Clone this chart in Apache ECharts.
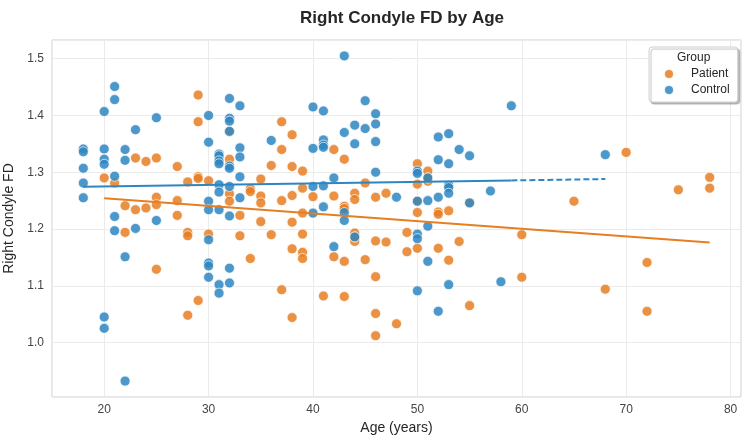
<!DOCTYPE html>
<html>
<head>
<meta charset="utf-8">
<script src="https://cdn.jsdelivr.net/npm/echarts@6/dist/echarts.min.js"></script>
<style>
  html, body { margin: 0; padding: 0; background: #fff; }
  #main { width: 750px; height: 445px; }
</style>
</head>
<body>
<div id="main"></div>
<script>
// data: [age, right condyle FD]
const patientPoints = [
  [20,1.290],[21,1.281],[22,1.241],[22,1.194],[23,1.325],[23,1.234],[24,1.319],[24,1.237],
  [25,1.325],[25,1.256],[25,1.243],[25,1.129],[27,1.310],[27,1.250],[27,1.224],[28,1.283],
  [28,1.194],[28,1.188],[28,1.048],[29,1.436],[29,1.389],[29,1.292],[29,1.289],[29,1.074],
  [30,1.285],[30,1.191],[32,1.323],[32,1.262],[32,1.249],[32,1.372],[33,1.224],[33,1.188],
  [34,1.271],[34,1.266],[34,1.148],[35,1.288],[35,1.258],[35,1.246],[35,1.213],[36,1.312],
  [36,1.190],[37,1.389],[37,1.340],[37,1.250],[37,1.093],[38,1.366],[38,1.310],[38,1.259],
  [38,1.212],[38,1.165],[38,1.044],[39,1.302],[39,1.272],[39,1.228],[39,1.191],[39,1.159],
  [39,1.148],[40,1.257],[41,1.082],[42,1.340],[42,1.258],[42,1.151],[43,1.323],[43,1.240],
  [43,1.236],[43,1.143],[43,1.081],[44,1.263],[44,1.252],[44,1.193],[44,1.178],[44,1.186],
  [45,1.281],[45,1.146],[46,1.256],[46,1.179],[46,1.116],[46,1.051],[46,1.012],[47,1.263],
  [47,1.177],[48,1.033],[49,1.194],[49,1.160],[50,1.315],[50,1.279],[50,1.249],[50,1.229],
  [50,1.166],[51,1.302],[51,1.284],[51,1.290],[52,1.230],[52,1.226],[52,1.166],[53,1.232],
  [53,1.145],[54,1.178],[55,1.246],[55,1.065],[60,1.190],[60,1.115],[65,1.249],[68,1.094],
  [70,1.335],[72,1.141],[72,1.055],[75,1.269],[78,1.291],[78,1.272]
];

const controlPoints = [
  [18,1.341],[18,1.336],[18,1.307],[18,1.281],[18,1.255],[20,1.407],[20,1.341],[20,1.323],
  [20,1.314],[20,1.045],[20,1.025],[21,1.451],[21,1.428],[21,1.293],[21,1.222],[21,1.197],
  [22,1.340],[22,1.321],[22,1.151],[22,0.932],[23,1.375],[23,1.201],[25,1.396],[25,1.215],
  [30,1.400],[30,1.353],[30,1.249],[30,1.234],[30,1.181],[30,1.140],[30,1.135],[30,1.115],
  [31,1.332],[31,1.329],[31,1.320],[31,1.315],[31,1.278],[31,1.265],[31,1.234],[31,1.102],
  [31,1.087],[32,1.430],[32,1.395],[32,1.390],[32,1.372],[32,1.311],[32,1.307],[32,1.275],
  [32,1.223],[32,1.131],[32,1.105],[33,1.417],[33,1.343],[33,1.327],[33,1.292],[33,1.255],
  [36,1.356],[40,1.415],[40,1.342],[40,1.275],[40,1.228],[41,1.408],[41,1.357],[41,1.348],
  [41,1.344],[41,1.276],[41,1.239],[42,1.290],[42,1.169],[43,1.505],[43,1.370],[43,1.229],
  [43,1.215],[44,1.383],[44,1.350],[44,1.186],[45,1.426],[45,1.377],[46,1.403],[46,1.385],
  [46,1.354],[46,1.300],[48,1.256],[50,1.302],[50,1.298],[50,1.249],[50,1.191],[50,1.183],
  [50,1.091],[51,1.290],[51,1.250],[51,1.205],[51,1.143],[52,1.362],[52,1.322],[52,1.256],
  [52,1.055],[53,1.368],[53,1.315],[53,1.277],[53,1.273],[53,1.263],[53,1.102],[54,1.340],
  [55,1.329],[55,1.246],[57,1.267],[58,1.107],[59,1.417],[68,1.331]
];

// regression lines (end points)
const patientFit = [[20,1.254],[78,1.176]];
const controlFitSolid = [[18,1.2746],[59,1.2856]];
const controlFitDashed = [[59,1.2856],[68,1.288]];

const groupNames = ['Patient', 'Control'];
const orange = '#e67e22';
const blue = '#2e86c1';

const chart = echarts.init(document.getElementById('main'), null, { renderer: 'canvas' });

function pointSeries(name, data, color) {
  return {
    name: name,
    type: 'scatter',
    data: data,
    symbolSize: 10,
    itemStyle: { color: color, opacity: 0.85, borderColor: '#fff', borderWidth: 0.8 },
    z: 2
  };
}

function fitSeries(name, data, color, dashed) {
  return {
    name: name,
    type: 'line',
    data: data,
    showSymbol: false,
    symbol: 'none',
    silent: true,
    lineStyle: { color: color, width: 2, type: dashed ? [6, 3] : 'solid' },
    z: 3
  };
}

const option = {
  animation: false,
  backgroundColor: '#fff',
  title: {
    text: 'Right Condyle FD by Age',
    left: 397,
    textAlign: 'center',
    top: 5,
    textStyle: { fontFamily: 'Liberation Sans', fontSize: 17, fontWeight: 'bold', color: '#262626' }
  },
  grid: {
    left: 52, right: 9, top: 40, bottom: 48,
    outerBoundsMode: 'none',
    containLabel: false,
    show: true, borderColor: '#cccccc', borderWidth: 1
  },
  legend: {
    data: groupNames,
    orient: 'vertical',
    left: 649,
    top: 47,
    padding: [21, 8, 6, 14],
    itemWidth: 10,
    itemHeight: 10,
    itemGap: 4,
    icon: 'circle',
    backgroundColor: '#fff',
    borderColor: '#d0d0d0',
    borderWidth: 1,
    borderRadius: 3,
    shadowColor: 'rgba(0,0,0,0.25)',
    shadowBlur: 1,
    shadowOffsetX: 2,
    shadowOffsetY: 2,
    textStyle: { fontFamily: 'Liberation Sans', fontSize: 12, color: '#262626', padding: [0, 0, 0, 12] }
  },
  graphic: {
    elements: [{
      type: 'text',
      left: 677,
      top: 52,
      z: 100,
      style: { text: 'Group', font: '12px "Liberation Sans"', fill: '#262626' }
    }]
  },
  xAxis: {
    type: 'value',
    min: 15,
    max: 81,
    splitNumber: 7,
    name: 'Age (years)',
    nameLocation: 'middle',
    nameGap: 22,
    nameTextStyle: { fontFamily: 'Liberation Sans', fontSize: 14, color: '#262626' },
    axisLine: { show: false },
    axisTick: { show: false },
    axisLabel: {
      margin: 7,
      fontFamily: 'Liberation Sans', fontSize: 12, color: '#444',
      formatter: v => (Math.abs(v % 10) < 1e-6 ? String(v) : '')
    },
    splitLine: { show: true, lineStyle: { color: '#ebebeb', width: 1 } }
  },
  yAxis: {
    type: 'value',
    min: 0.904,
    max: 1.533,
    name: 'Right Condyle FD',
    nameLocation: 'middle',
    nameGap: 31,
    nameTextStyle: { fontFamily: 'Liberation Sans', fontSize: 14, color: '#262626' },
    axisLine: { show: false },
    axisTick: { show: false },
    axisLabel: {
      margin: 8,
      fontFamily: 'Liberation Sans', fontSize: 12, color: '#444',
      formatter: v => {
        const r = Math.round(v * 10) / 10;
        return Math.abs(v - r) < 1e-6 ? r.toFixed(1) : '';
      }
    },
    splitLine: { show: true, lineStyle: { color: '#ebebeb', width: 1 } }
  },
  series: [
    pointSeries('Patient', patientPoints, orange),
    pointSeries('Control', controlPoints, blue),
    fitSeries('Patient fit', patientFit, orange, false),
    fitSeries('Control fit', controlFitSolid, blue, false),
    fitSeries('Control fit extended', controlFitDashed, blue, true)
  ]
};

chart.setOption(option);
</script>
</body>
</html>
